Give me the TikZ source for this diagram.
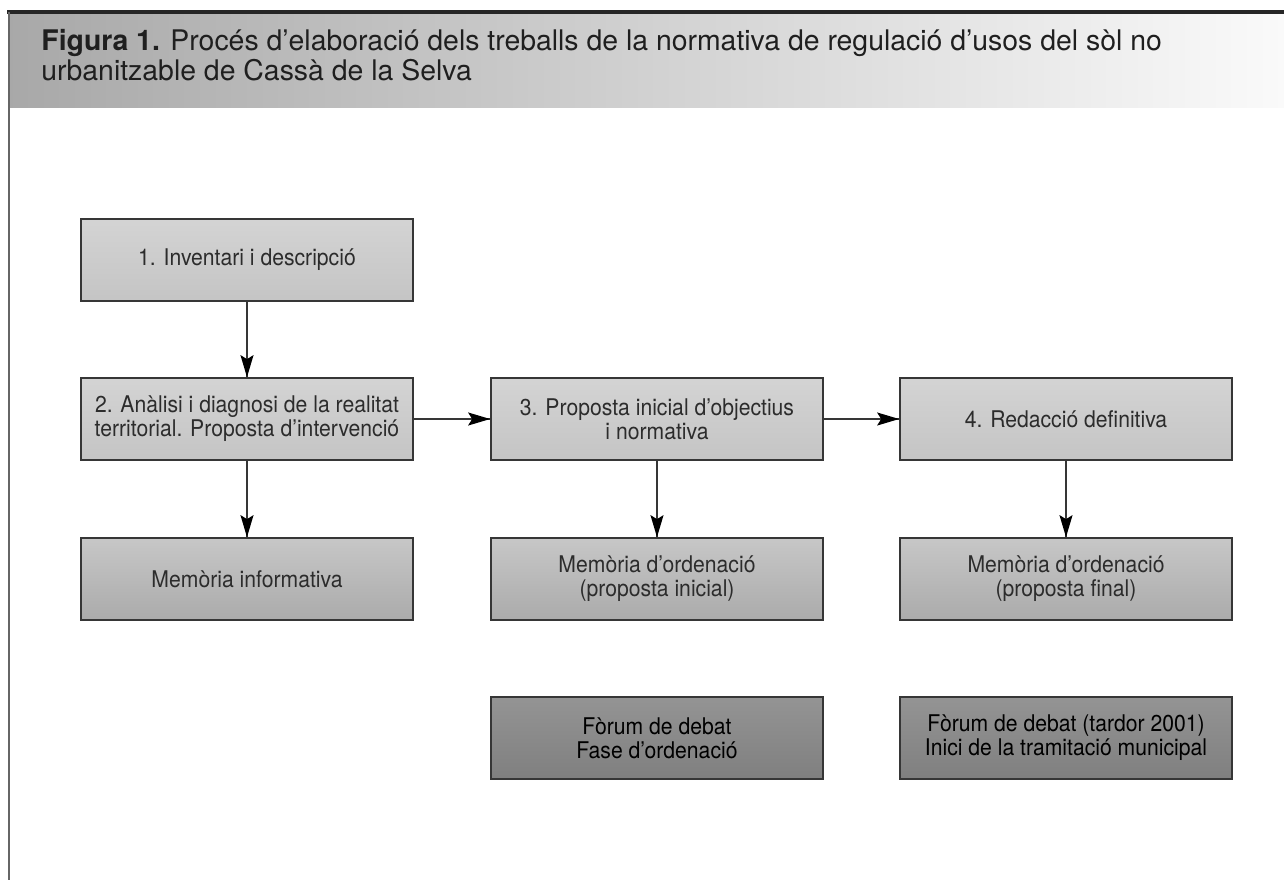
\documentclass[tikz,border=0pt]{standalone}
\usepackage{fontspec}
\setmainfont{TeX Gyre Heros}
\newfontfamily\estret[FakeStretch=0.92]{TeX Gyre Heros}
\usetikzlibrary{decorations.markings,arrows.meta}
\definecolor{vora}{HTML}{363636}
\definecolor{textgris}{HTML}{2C2C2C}
\definecolor{clar}{HTML}{F6F6F6}
\tikzstyle{etapa}=[rectangle, draw=vora, line width=0.85pt, minimum width=166pt, minimum height=41pt,
  inner sep=2pt, align=center, font=\estret\fontsize{11.5}{12}\selectfont, text=textgris,
  top color=black!17, middle color=clar, bottom color=black!23]
\tikzstyle{memoria}=[etapa, top color=black!22, bottom color=black!33]
\tikzstyle{forum}=[etapa, text=black, top color=black!42, middle color=clar, bottom color=black!50]
\newcommand{\etapa}{\node[etapa]}

\begin{document}
\begin{tikzpicture}[x=0.5pt, y=-0.5pt,
    every edge/.style={
        draw=vora, line width=0.75pt,
        postaction={decorate,
                    decoration={markings,mark=at position 1 with {\arrow[black]{Stealth[length=11pt,width=6.5pt,inset=2pt]}}}
                   }
        }
]
\useasboundingbox (0,0) rectangle (1284,880);
% capçalera
\shade[left color=black!34, right color=black!2] (9,13) rectangle (1284,107);
\draw[line width=1.6pt, black!85] (7,12) -- (1284,12);
\draw[line width=1pt, black!60] (9,12) -- (9,880);
\node (titol) at (41,29) [anchor=north west, align=left, text=black!88, inner sep=0pt,
  font=\fontsize{14.2}{15}\selectfont]
  {\textbf{Figura 1.} Procés d’elaboració dels treballs de la normativa de regulació d’usos del sòl no\\
   urbanitzable de Cassà de la Selva};
% etapes
\etapa (inventari) at (247,260) {1. Inventari i descripció};
\etapa (analisi) at (247,419) {2. Anàlisi i diagnosi de la realitat\\territorial. Proposta d’intervenció};
\etapa (proposta) at (657,419) {3. Proposta inicial d’objectius\\i normativa};
\etapa (redaccio) at (1066,419) {4. Redacció definitiva};
\etapa (meminf) at (247,579) [memoria] {Memòria informativa};
\etapa (memini) at (657,579) [memoria] {Memòria d’ordenació\\(proposta inicial)};
\etapa (memfin) at (1066,579) [memoria] {Memòria d’ordenació\\(proposta final)};
\etapa (forum1) at (657,738) [forum] {Fòrum de debat\\Fase d’ordenació};
\etapa (forum2) at (1066,738) [forum] {Fòrum de debat (tardor 2001)\\Inici de la tramitació municipal};
\path
(inventari) edge (analisi)
(analisi) edge (proposta)
(proposta) edge (redaccio)
(analisi) edge (meminf)
(proposta) edge (memini)
(redaccio) edge (memfin)
;
\end{tikzpicture}
\end{document}
